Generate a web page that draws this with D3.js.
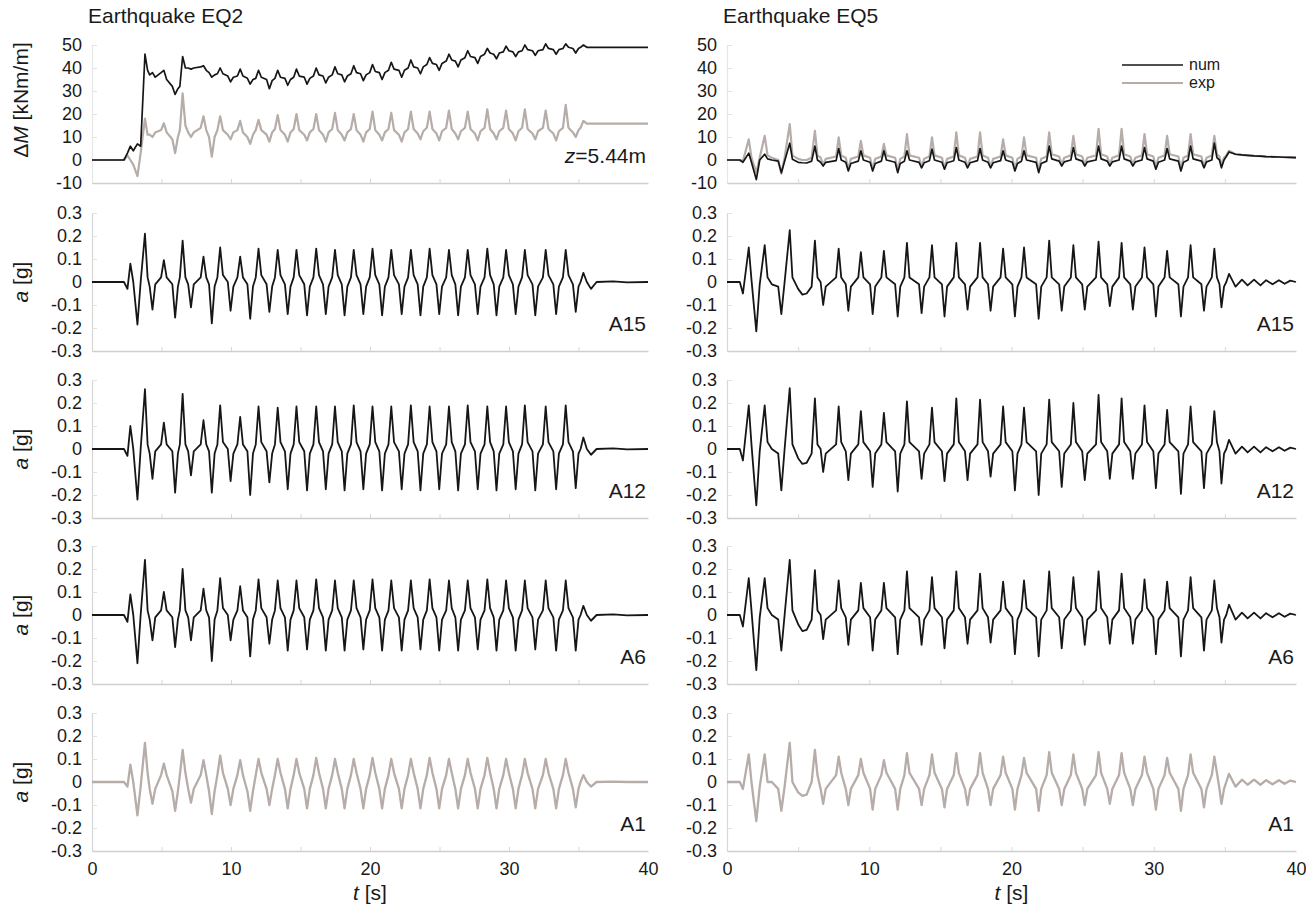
<!DOCTYPE html>
<html>
<head>
<meta charset="utf-8">
<script src="https://cdn.jsdelivr.net/npm/d3@7"></script>
<style>
  body { margin: 0; background: #fff; }
  svg { display: block; font-family: "Liberation Sans", Arial, sans-serif; }
</style>
</head>
<body>
<svg id="chart" width="1306" height="907"></svg>
<script>
// ---------- Earthquake EQ2: sample times [s] (peaks, troughs and knees) ----------
const eq2Time = [
  0, 2.3, 2.55, 2.76, 2.97, 3.27, 3.5, 3.81,
  4.0, 4.15, 4.35, 4.55, 4.97, 5.17,
  5.37, 5.78, 5.98, 6.18, 6.32, 6.52,
  6.72, 6.92, 7.12, 7.32, 7.82, 8.02,
  8.22, 8.42, 8.62, 8.82, 9.02, 9.22,
  9.42, 9.77, 9.97, 10.17, 10.46, 10.66,
  10.86, 11.18, 11.38, 11.58, 11.78, 11.98,
  12.18, 12.56, 12.76, 12.96, 13.16, 13.36,
  13.56, 13.88, 14.08, 14.28, 14.51, 14.71,
  14.91, 15.27, 15.47, 15.67, 15.93, 16.13,
  16.33, 16.62, 16.82, 17.02, 17.28, 17.48,
  17.68, 17.97, 18.17, 18.37, 18.63, 18.83,
  19.03, 19.32, 19.52, 19.72, 19.98, 20.18,
  20.38, 20.67, 20.87, 21.07, 21.33, 21.53,
  21.73, 22.08, 22.28, 22.48, 22.74, 22.94,
  23.14, 23.43, 23.63, 23.83, 24.09, 24.29,
  24.49, 24.78, 24.98, 25.18, 25.48, 25.68,
  25.88, 26.14, 26.34, 26.54, 26.83, 27.03,
  27.23, 27.55, 27.75, 27.95, 28.24, 28.44,
  28.64, 28.9, 29.1, 29.3, 29.59, 29.79,
  29.99, 30.28, 30.48, 30.68, 30.94, 31.14,
  31.34, 31.69, 31.89, 32.09, 32.44, 32.64,
  32.84, 33.19, 33.39, 33.59, 33.88, 34.08,
  34.28, 34.6, 34.8, 35.0, 35.15, 35.35,
  35.6, 35.9, 36.3, 37.5, 38.5, 40
];

// EQ2 bending moment increment at z=5.44m [kNm/m]
const eq2MomentNum = [
  0, 0, 3, 6, 4, 7, 6, 46,
  39, 37, 38, 36, 38, 39,
  35, 32, 28.5, 31, 32, 45,
  40, 40, 39.5, 40, 40.5, 41,
  39, 38, 36, 37, 37.5, 40,
  37.5, 36.5, 34, 36, 36.5, 39.5,
  36.5, 35.5, 33, 35, 35.5, 39,
  36, 35, 31, 34.5, 35.5, 39,
  36, 35.5, 32.5, 35, 36, 39.5,
  36.5, 36, 33, 35.5, 36.5, 40,
  37, 36.5, 33.5, 36, 37, 40.5,
  37.5, 37, 34, 36.5, 37.5, 41,
  38, 37.5, 34.5, 37, 38, 41.5,
  38.5, 38, 35, 38, 39, 42.5,
  39.5, 39, 36, 39, 40, 43.5,
  40.5, 40, 37.5, 40.5, 41.5, 44.5,
  42, 41.5, 39, 42, 43, 46,
  43.5, 43, 40.5, 43.5, 44.5, 47.5,
  45, 44.5, 42, 45, 46, 48.5,
  46.5, 46, 44, 46.5, 47, 49.5,
  47.5, 47, 45, 47, 47.5, 50,
  48, 47.5, 45.5, 47.5, 48, 50.5,
  48.5, 48, 46, 48, 48.5, 50.5,
  49, 48.5, 46.5, 48.5, 49, 50,
  49, 49, 49, 49, 49, 49
];
const eq2MomentExp = [
  0, 0, 2, 0, -2, -7, 3, 18,
  11, 11, 10, 12, 13, 16,
  12, 9, 3, 10, 13, 29,
  15, 12, 10, 12, 14, 19,
  13, 10, 1.5, 10, 13, 19,
  13, 11, 9, 12, 13, 17,
  12, 10, 7, 11, 13, 17.5,
  13, 11, 8, 12, 13.5, 19.5,
  13, 11, 8, 12, 13.5, 20,
  13, 11, 8.5, 12, 13.5, 20,
  13, 11, 8, 12, 13.5, 20.5,
  13, 11, 8.5, 12, 13.5, 20,
  13, 11, 8, 12, 13.5, 21,
  13, 11, 8.5, 12, 13.5, 20.5,
  13, 11, 8, 12, 13.5, 21,
  13.5, 11.5, 9, 12.5, 14, 21,
  13.5, 11.5, 8.5, 12.5, 14, 21.5,
  13.5, 11.5, 9, 12.5, 14, 21,
  13.5, 11.5, 8.5, 12.5, 14, 22,
  13.5, 11.5, 9, 12.5, 14, 21.5,
  13.5, 11.5, 8.5, 12.5, 14, 22,
  13.5, 11.5, 9, 12.5, 14, 21.5,
  13.5, 11.5, 8.5, 12.5, 14, 24,
  14, 12, 10, 13, 14, 17,
  15.8, 15.8, 15.8, 15.8, 15.8, 15.8
];

// EQ2 accelerations [g]
const eq2A15 = [
  0, 0, -0.03, 0.08, 0, -0.185, 0, 0.21,
  0.02, -0.02, -0.12, -0.01, 0.02, 0.095,
  0.02, -0.01, -0.155, -0.02, 0.02, 0.18,
  0.02, -0.01, -0.11, -0.01, 0.02, 0.11,
  0.02, -0.01, -0.18, -0.02, 0.02, 0.15,
  0.03, 0, -0.125, -0.02, 0.02, 0.11,
  0.02, -0.01, -0.16, -0.02, 0.02, 0.145,
  0.03, -0.01, -0.13, -0.02, 0.02, 0.14,
  0.03, -0.01, -0.14, -0.02, 0.02, 0.14,
  0.03, -0.01, -0.145, -0.02, 0.02, 0.145,
  0.03, -0.01, -0.14, -0.02, 0.02, 0.14,
  0.03, -0.01, -0.145, -0.02, 0.02, 0.14,
  0.03, -0.01, -0.14, -0.02, 0.02, 0.145,
  0.03, -0.01, -0.145, -0.02, 0.02, 0.14,
  0.03, -0.01, -0.14, -0.02, 0.02, 0.14,
  0.03, -0.01, -0.145, -0.02, 0.02, 0.145,
  0.03, -0.01, -0.14, -0.02, 0.02, 0.14,
  0.03, -0.01, -0.145, -0.02, 0.02, 0.14,
  0.03, -0.01, -0.14, -0.02, 0.02, 0.145,
  0.03, -0.01, -0.145, -0.02, 0.02, 0.14,
  0.03, -0.01, -0.14, -0.02, 0.02, 0.14,
  0.03, -0.01, -0.145, -0.02, 0.02, 0.14,
  0.03, -0.01, -0.14, -0.02, 0.02, 0.14,
  0.03, -0.01, -0.13, -0.02, 0, 0.04,
  0, -0.03, 0, 0.003, -0.002, 0
];
const eq2A12 = [
  0, 0, -0.03, 0.10, 0, -0.22, 0, 0.26,
  0.02, -0.02, -0.13, -0.01, 0.02, 0.115,
  0.02, -0.01, -0.19, -0.02, 0.02, 0.24,
  0.02, -0.01, -0.115, -0.01, 0.02, 0.125,
  0.02, -0.01, -0.19, -0.02, 0.02, 0.19,
  0.03, 0, -0.14, -0.02, 0.02, 0.14,
  0.02, -0.01, -0.2, -0.02, 0.02, 0.185,
  0.03, -0.01, -0.145, -0.02, 0.02, 0.18,
  0.03, -0.01, -0.175, -0.02, 0.02, 0.185,
  0.03, -0.01, -0.18, -0.02, 0.02, 0.185,
  0.03, -0.01, -0.175, -0.02, 0.02, 0.185,
  0.03, -0.01, -0.18, -0.02, 0.02, 0.19,
  0.03, -0.01, -0.175, -0.02, 0.02, 0.185,
  0.03, -0.01, -0.18, -0.02, 0.02, 0.185,
  0.03, -0.01, -0.175, -0.02, 0.02, 0.19,
  0.03, -0.01, -0.18, -0.02, 0.02, 0.185,
  0.03, -0.01, -0.175, -0.02, 0.02, 0.185,
  0.03, -0.01, -0.18, -0.02, 0.02, 0.19,
  0.03, -0.01, -0.175, -0.02, 0.02, 0.185,
  0.03, -0.01, -0.18, -0.02, 0.02, 0.185,
  0.03, -0.01, -0.175, -0.02, 0.02, 0.19,
  0.03, -0.01, -0.18, -0.02, 0.02, 0.185,
  0.03, -0.01, -0.175, -0.02, 0.02, 0.19,
  0.03, -0.01, -0.17, -0.02, 0, 0.05,
  0, -0.025, 0, 0.003, -0.002, 0
];
const eq2A6 = [
  0, 0, -0.03, 0.09, 0, -0.21, 0, 0.24,
  0.02, -0.02, -0.11, -0.01, 0.02, 0.10,
  0.02, -0.01, -0.14, -0.02, 0.02, 0.20,
  0.02, -0.01, -0.11, -0.01, 0.02, 0.115,
  0.02, -0.01, -0.20, -0.02, 0.02, 0.16,
  0.03, 0, -0.11, -0.02, 0.02, 0.125,
  0.02, -0.01, -0.18, -0.02, 0.02, 0.155,
  0.03, -0.01, -0.125, -0.02, 0.02, 0.15,
  0.03, -0.01, -0.155, -0.02, 0.02, 0.15,
  0.03, -0.01, -0.15, -0.02, 0.02, 0.155,
  0.03, -0.01, -0.155, -0.02, 0.02, 0.15,
  0.03, -0.01, -0.155, -0.02, 0.02, 0.15,
  0.03, -0.01, -0.15, -0.02, 0.02, 0.155,
  0.03, -0.01, -0.155, -0.02, 0.02, 0.15,
  0.03, -0.01, -0.155, -0.02, 0.02, 0.15,
  0.03, -0.01, -0.15, -0.02, 0.02, 0.155,
  0.03, -0.01, -0.155, -0.02, 0.02, 0.15,
  0.03, -0.01, -0.155, -0.02, 0.02, 0.15,
  0.03, -0.01, -0.15, -0.02, 0.02, 0.155,
  0.03, -0.01, -0.155, -0.02, 0.02, 0.15,
  0.03, -0.01, -0.155, -0.02, 0.02, 0.15,
  0.03, -0.01, -0.15, -0.02, 0.02, 0.15,
  0.03, -0.01, -0.155, -0.02, 0.02, 0.15,
  0.03, -0.01, -0.155, -0.02, 0, 0.04,
  0, -0.025, 0, 0.003, -0.002, 0
];
const eq2A1 = [
  0, 0, -0.02, 0.075, 0, -0.145, -0.02, 0.17,
  0.04, -0.03, -0.095, -0.03, 0.03, 0.08,
  0.03, -0.04, -0.125, -0.04, 0.03, 0.14,
  0.04, -0.03, -0.09, -0.03, 0.03, 0.095,
  0.03, -0.04, -0.14, -0.04, 0.03, 0.115,
  0.04, -0.03, -0.10, -0.03, 0.03, 0.095,
  0.03, -0.04, -0.125, -0.04, 0.03, 0.10,
  0.04, -0.03, -0.10, -0.03, 0.03, 0.10,
  0.04, -0.03, -0.115, -0.03, 0.03, 0.10,
  0.04, -0.03, -0.115, -0.03, 0.03, 0.105,
  0.04, -0.03, -0.115, -0.03, 0.03, 0.10,
  0.04, -0.03, -0.115, -0.03, 0.03, 0.10,
  0.04, -0.03, -0.115, -0.03, 0.03, 0.105,
  0.04, -0.03, -0.115, -0.03, 0.03, 0.10,
  0.04, -0.03, -0.115, -0.03, 0.03, 0.10,
  0.04, -0.03, -0.115, -0.03, 0.03, 0.105,
  0.04, -0.03, -0.115, -0.03, 0.03, 0.10,
  0.04, -0.03, -0.115, -0.03, 0.03, 0.10,
  0.04, -0.03, -0.115, -0.03, 0.03, 0.105,
  0.04, -0.03, -0.115, -0.03, 0.03, 0.10,
  0.04, -0.03, -0.115, -0.03, 0.03, 0.10,
  0.04, -0.03, -0.115, -0.03, 0.03, 0.10,
  0.04, -0.03, -0.115, -0.03, 0.03, 0.10,
  0.04, -0.03, -0.11, -0.03, 0, 0.03,
  0, -0.02, 0, 0.002, 0, 0
];

// ---------- Earthquake EQ5: sample times [s] ----------
const eq5Time = [
  0, 0.9, 1.12, 1.53, 1.72, 2.06, 2.3, 2.65,
  2.85, 3.15, 3.6, 3.82, 4.05, 4.41,
  4.6, 5.0, 5.3, 5.6, 5.95, 6.18,
  6.36, 6.58, 6.76, 6.94, 7.67, 7.85,
  8.03, 8.35, 8.53, 8.71, 9.23, 9.41,
  9.59, 10.06, 10.24, 10.42, 10.85, 11.03,
  11.21, 11.82, 12.0, 12.18, 12.47, 12.65,
  12.83, 13.5, 13.68, 13.86, 14.23, 14.41,
  14.59, 15.11, 15.29, 15.47, 15.94, 16.12,
  16.3, 16.73, 16.91, 17.09, 17.61, 17.79,
  17.97, 18.35, 18.53, 18.71, 19.23, 19.41,
  19.59, 20.06, 20.24, 20.42, 20.7, 20.88,
  21.06, 21.73, 21.91, 22.09, 22.47, 22.65,
  22.83, 23.35, 23.53, 23.71, 24.17, 24.35,
  24.53, 24.97, 25.15, 25.33, 25.94, 26.12,
  26.3, 26.73, 26.91, 27.09, 27.56, 27.74,
  27.92, 28.35, 28.53, 28.71, 29.17, 29.35,
  29.53, 29.97, 30.15, 30.33, 30.76, 30.94,
  31.12, 31.73, 31.91, 32.09, 32.41, 32.59,
  32.77, 33.35, 33.53, 33.71, 34.08, 34.26,
  34.44, 34.62, 34.76, 34.94, 35.1, 35.29,
  35.75, 36.2, 36.6, 37.05, 37.5, 37.9, 38.35, 38.8, 39.2, 39.6, 40
];

const eq5MomentNum = [
  0, 0, -1, 3, -1, -8.5, 0, 2.5,
  0.5, 0, -0.5, -5.5, -0.5, 7.3,
  0.3, -1, -1.2, -1.3, -0.5, 6,
  0, -1, -2.6, -1, -0.3, 5,
  0, -1, -4.8, -1.5, -0.5, 4,
  0, -1, -4.8, -1.5, -0.5, 4,
  0, -1, -5.5, -1.5, -0.5, 4,
  0, -1, -3.4, -1.2, -0.3, 4.7,
  0, -1, -4, -1.2, -0.3, 5.4,
  0, -1, -3.4, -1.2, -0.3, 5,
  0, -1, -3.4, -1.2, -0.3, 4,
  0, -1, -4.8, -1.5, -0.5, 4,
  0, -1, -5.5, -1.5, -0.5, 6,
  0.5, -0.5, -2.6, -0.8, 0, 5.4,
  0.5, -0.5, -2.6, -0.8, 0, 6,
  0.5, -0.5, -2.6, -0.8, 0, 6,
  0.5, -0.5, -2.6, -0.8, 0, 5.4,
  0.5, -0.5, -4, -1, 0, 5,
  0.5, -0.5, -4.8, -1, 0, 6,
  0.5, -0.5, -3.4, -0.8, 0, 7.3,
  1, 0, -3.4, 0, 1.5, 3.5,
  2.5, 2.2, 2.0, 1.8, 1.7, 1.5, 1.4, 1.3, 1.2, 1.1, 1.0
];
const eq5MomentExp = [
  0, 0, -0.5, 9, 1, -5.5, 1, 10.5,
  2, 1, 0, -6, 1, 15.6,
  2, 0.5, 0, 0, 1, 12.7,
  2, 1, -2, 0.5, 1.5, 9.8,
  2, 1, -4, 0.5, 1.5, 8.3,
  2, 1, -4, 0.5, 1.5, 7,
  2, 1, -4.5, 0.5, 1.5, 11.3,
  2, 1, -3, 0.5, 1.5, 9.8,
  2, 1, -3.5, 0.5, 1.5, 12,
  2, 1, -3, 0.5, 1.5, 12,
  2, 1, -3, 0.5, 1.5, 9,
  2, 1, -4, 0.5, 1.5, 9.8,
  2, 1, -4.5, 0.5, 1.5, 12,
  2.5, 1.5, -2, 1, 2, 10.5,
  2.5, 1.5, -2, 1, 2, 13.5,
  2.5, 1.5, -2, 1, 2, 13.5,
  2.5, 1.5, -2, 1, 2, 11.3,
  2.5, 1.5, -3, 1, 2, 10.5,
  2.5, 1.5, -4, 1, 2, 11.3,
  2.5, 1.5, -3, 1, 2, 10.5,
  2.5, 1.5, -2.5, 1, 2, 4,
  2.5, 2.2, 2.0, 1.8, 1.7, 1.5, 1.4, 1.3, 1.2, 1.1, 1.0
];

const eq5A15 = [
  0, 0, -0.05, 0.15, 0.01, -0.215, -0.01, 0.16,
  0.02, -0.01, -0.02, -0.14, 0, 0.225,
  0.02, -0.03, -0.055, -0.05, -0.02, 0.18,
  0.02, 0, -0.1, -0.02, 0.02, 0.145,
  0.02, -0.01, -0.125, -0.02, 0.02, 0.13,
  0.02, -0.01, -0.14, -0.02, 0.02, 0.135,
  0.02, -0.01, -0.15, -0.02, 0.02, 0.17,
  0.02, -0.01, -0.135, -0.02, 0.02, 0.16,
  0.02, -0.01, -0.15, -0.02, 0.02, 0.17,
  0.02, -0.01, -0.12, -0.02, 0.02, 0.17,
  0.02, -0.01, -0.125, -0.02, 0.02, 0.145,
  0.02, -0.01, -0.15, -0.02, 0.02, 0.15,
  0.02, -0.01, -0.16, -0.02, 0.02, 0.18,
  0.02, -0.01, -0.125, -0.02, 0.02, 0.16,
  0.02, -0.01, -0.12, -0.02, 0.02, 0.175,
  0.02, -0.01, -0.105, -0.02, 0.02, 0.17,
  0.02, -0.01, -0.12, -0.02, 0.02, 0.15,
  0.02, -0.01, -0.15, -0.02, 0.02, 0.135,
  0.02, -0.01, -0.15, -0.02, 0.02, 0.16,
  0.02, -0.01, -0.125, -0.02, 0.02, 0.145,
  0.02, -0.01, -0.11, -0.02, 0, 0.035,
  -0.02, 0.01, -0.015, 0.01, -0.015, 0.008, -0.01, 0.008, -0.008, 0.006, 0
];
const eq5A12 = [
  0, 0, -0.05, 0.19, 0.02, -0.245, -0.01, 0.19,
  0.03, 0, -0.02, -0.18, 0, 0.265,
  0.02, -0.04, -0.065, -0.06, -0.02, 0.22,
  0.02, 0, -0.10, -0.02, 0.02, 0.185,
  0.03, -0.01, -0.135, -0.02, 0.02, 0.165,
  0.03, -0.01, -0.165, -0.02, 0.02, 0.157,
  0.03, -0.01, -0.185, -0.02, 0.02, 0.207,
  0.03, -0.01, -0.13, -0.02, 0.02, 0.18,
  0.03, -0.01, -0.14, -0.02, 0.02, 0.22,
  0.03, -0.01, -0.135, -0.02, 0.02, 0.215,
  0.03, -0.01, -0.12, -0.02, 0.02, 0.185,
  0.03, -0.01, -0.18, -0.02, 0.02, 0.18,
  0.03, -0.01, -0.2, -0.02, 0.02, 0.215,
  0.03, -0.01, -0.165, -0.02, 0.02, 0.2,
  0.03, -0.01, -0.135, -0.02, 0.02, 0.235,
  0.03, -0.01, -0.13, -0.02, 0.02, 0.22,
  0.03, -0.01, -0.13, -0.02, 0.02, 0.19,
  0.03, -0.01, -0.17, -0.02, 0.02, 0.17,
  0.03, -0.01, -0.195, -0.02, 0.02, 0.185,
  0.03, -0.01, -0.17, -0.02, 0.02, 0.165,
  0.03, -0.01, -0.15, -0.02, 0, 0.04,
  -0.02, 0.01, -0.015, 0.01, -0.015, 0.008, -0.01, 0.008, -0.008, 0.006, 0
];
const eq5A6 = [
  0, 0, -0.05, 0.16, 0.02, -0.24, -0.01, 0.16,
  0.03, 0, -0.02, -0.155, 0, 0.24,
  0.02, -0.04, -0.07, -0.065, -0.02, 0.195,
  0.02, 0, -0.105, -0.02, 0.02, 0.15,
  0.03, -0.01, -0.13, -0.02, 0.02, 0.14,
  0.03, -0.01, -0.155, -0.02, 0.02, 0.14,
  0.03, -0.01, -0.17, -0.02, 0.02, 0.19,
  0.03, -0.01, -0.13, -0.02, 0.02, 0.165,
  0.03, -0.01, -0.145, -0.02, 0.02, 0.19,
  0.03, -0.01, -0.125, -0.02, 0.02, 0.18,
  0.03, -0.01, -0.12, -0.02, 0.02, 0.145,
  0.03, -0.01, -0.17, -0.02, 0.02, 0.15,
  0.03, -0.01, -0.18, -0.02, 0.02, 0.19,
  0.03, -0.01, -0.145, -0.02, 0.02, 0.165,
  0.03, -0.01, -0.13, -0.02, 0.02, 0.19,
  0.03, -0.01, -0.125, -0.02, 0.02, 0.18,
  0.03, -0.01, -0.125, -0.02, 0.02, 0.155,
  0.03, -0.01, -0.17, -0.02, 0.02, 0.145,
  0.03, -0.01, -0.18, -0.02, 0.02, 0.165,
  0.03, -0.01, -0.155, -0.02, 0.02, 0.15,
  0.03, -0.01, -0.12, -0.02, 0, 0.045,
  -0.02, 0.01, -0.015, 0.01, -0.015, 0.008, -0.01, 0.008, -0.008, 0.006, 0
];
const eq5A1 = [
  0, 0, -0.03, 0.12, 0, -0.17, -0.02, 0.12,
  0, 0, -0.03, -0.125, -0.02, 0.17,
  0, -0.045, -0.06, -0.055, 0, 0.14,
  0.03, -0.03, -0.095, -0.03, 0.03, 0.11,
  0.04, -0.03, -0.10, -0.03, 0.03, 0.10,
  0.04, -0.03, -0.12, -0.03, 0.03, 0.095,
  0.04, -0.03, -0.12, -0.03, 0.03, 0.125,
  0.04, -0.03, -0.10, -0.03, 0.03, 0.12,
  0.04, -0.03, -0.11, -0.03, 0.03, 0.125,
  0.04, -0.03, -0.10, -0.03, 0.03, 0.125,
  0.04, -0.03, -0.10, -0.03, 0.03, 0.11,
  0.04, -0.03, -0.12, -0.03, 0.03, 0.105,
  0.04, -0.03, -0.125, -0.03, 0.03, 0.13,
  0.04, -0.03, -0.10, -0.03, 0.03, 0.12,
  0.04, -0.03, -0.10, -0.03, 0.03, 0.13,
  0.04, -0.03, -0.095, -0.03, 0.03, 0.125,
  0.04, -0.03, -0.10, -0.03, 0.03, 0.11,
  0.04, -0.03, -0.12, -0.03, 0.03, 0.105,
  0.04, -0.03, -0.125, -0.03, 0.03, 0.12,
  0.04, -0.03, -0.11, -0.03, 0.03, 0.11,
  0.04, -0.03, -0.095, -0.03, 0, 0.035,
  -0.02, 0.01, -0.012, 0.01, -0.012, 0.008, -0.01, 0.008, -0.008, 0.006, 0
];

// ---------- axis ticks ----------
const timeTicks = [0, 10, 20, 30, 40];
const timeTickLabels = ["0", "10", "20", "30", "40"];
const timeMinorTicks = [5, 10, 15, 20, 25, 30, 35];
const momentTicks = [-10, 0, 10, 20, 30, 40, 50];
const momentTickLabels = ["-10", "0", "10", "20", "30", "40", "50"];
const accTicks = [-0.3, -0.2, -0.1, 0, 0.1, 0.2, 0.3];
const accTickLabels = ["-0.3", "-0.2", "-0.1", "0", "0.1", "0.2", "0.3"];
const stationLabels = ["A15", "A12", "A6", "A1"];
const legendLabels = ["num", "exp"];

// ---------- layout & style ----------
const COL_NUM = "#161616";
const COL_EXP = "#b6aca8";
const AXIS_COL = "#cfcfcf";
const TEXT_COL = "#1a1a1a";
const TICK_FONT = 18;
const LABEL_FONT = 21;

const columns = [
  { x0: 92, x1: 648, title: "Earthquake EQ2", time: eq2Time,
    moment: [eq2MomentExp, eq2MomentNum], acc: [eq2A15, eq2A12, eq2A6, eq2A1],
    axisTitles: true, legend: false },
  { x0: 727, x1: 1296, title: "Earthquake EQ5", time: eq5Time,
    moment: [eq5MomentExp, eq5MomentNum], acc: [eq5A15, eq5A12, eq5A6, eq5A1],
    axisTitles: false, legend: true }
];
const rowBottoms = [183, 351, 518, 684, 851];
const panelHeight = 138;

const svg = d3.select("#chart");

function styleAxisText(g, size) {
  g.selectAll("text")
    .attr("fill", TEXT_COL)
    .style("font-size", size + "px")
    .style("font-family", "'Liberation Sans', Arial, sans-serif");
}

columns.forEach(col => {
  const x = d3.scaleLinear().domain([0, 40]).range([col.x0, col.x1]);
  const colG = svg.append("g");

  // column title
  colG.append("text")
    .attr("x", col.x0 - 4).attr("y", 23)
    .attr("fill", TEXT_COL).style("font-size", "21px")
    .text(col.title);

  rowBottoms.forEach((bot, r) => {
    const isMoment = r === 0;
    const isLast = r === rowBottoms.length - 1;
    const y = isMoment
      ? d3.scaleLinear().domain([-10, 50]).range([bot, bot - panelHeight])
      : d3.scaleLinear().domain([-0.3, 0.3]).range([bot, bot - panelHeight]);
    const ticks = isMoment ? momentTicks : accTicks;
    const tickLabels = isMoment ? momentTickLabels : accTickLabels;

    const g = colG.append("g");

    // y axis
    const ya = g.append("g")
      .attr("transform", `translate(${col.x0},0)`)
      .call(d3.axisLeft(y).tickValues(ticks)
        .tickFormat((d, i) => tickLabels[i])
        .tickSizeInner(-5).tickSizeOuter(0).tickPadding(10));
    ya.select(".domain").attr("stroke", isMoment ? "#e6e6e6" : "#d6d6d6").attr("stroke-width", 1.2);
    ya.selectAll(".tick line").attr("stroke", "#e2e2e2");
    styleAxisText(ya, TICK_FONT);

    // x axis (baseline at the lower limit of each panel)
    const xa = g.append("g")
      .attr("transform", `translate(0,${bot})`)
      .call(d3.axisBottom(x).tickValues(timeTicks)
        .tickFormat(isLast ? (d, i) => timeTickLabels[i] : "")
        .tickSizeInner(0).tickSizeOuter(0).tickPadding(11));
    xa.select(".domain").attr("stroke", AXIS_COL).attr("stroke-width", 1.6);
    styleAxisText(xa, TICK_FONT);
    const xm = g.append("g")
      .attr("transform", `translate(0,${bot})`)
      .call(d3.axisBottom(x).tickValues(timeMinorTicks).tickFormat("")
        .tickSizeInner(-4).tickSizeOuter(0));
    xm.select(".domain").remove();
    xm.selectAll(".tick line").attr("stroke", "#d8d8d8");

    const line = d3.line().x(d => x(d[0])).y(d => y(d[1]));

    if (isMoment) {
      const [expVals, numVals] = col.moment;
      g.append("path").datum(d3.zip(col.time, expVals))
        .attr("d", line).attr("fill", "none")
        .attr("stroke", COL_EXP).attr("stroke-width", 2.2).attr("stroke-linejoin", "round");
      g.append("path").datum(d3.zip(col.time, numVals))
        .attr("d", line).attr("fill", "none")
        .attr("stroke", COL_NUM).attr("stroke-width", 1.7).attr("stroke-linejoin", "round");
    } else {
      const vals = col.acc[r - 1];
      const isInput = r === 4;
      g.append("path").datum(d3.zip(col.time, vals))
        .attr("d", line).attr("fill", "none")
        .attr("stroke", isInput ? COL_EXP : COL_NUM)
        .attr("stroke-width", isInput ? 2.3 : 1.8)
        .attr("stroke-linejoin", "round");
    }

    // panel label at lower right
    const lab = g.append("text")
      .attr("x", col.x1 - 2).attr("y", bot - 20)
      .attr("text-anchor", "end").attr("fill", TEXT_COL)
      .style("font-size", "21px");
    if (isMoment) {
      if (col === columns[0]) {
        lab.append("tspan").style("font-style", "italic").text("z");
        lab.append("tspan").text("=5.44m");
      }
    } else {
      lab.text(stationLabels[r - 1]);
    }

    // rotated axis titles (left column only)
    if (col.axisTitles) {
      const cy = isMoment ? 100 : y(0);
      const t = g.append("text")
        .attr("transform", `translate(28,${cy}) rotate(-90)`)
        .attr("text-anchor", "middle").attr("fill", TEXT_COL)
        .style("font-size", LABEL_FONT + "px");
      if (isMoment) {
        t.append("tspan").text("\u0394");
        t.append("tspan").style("font-style", "italic").text("M");
        t.append("tspan").text(" [kNm/m]");
      } else {
        t.append("tspan").style("font-style", "italic").text("a");
        t.append("tspan").text(" [g]");
      }
    }

    // legend
    if (isMoment && col.legend) {
      const lg = g.append("g");
      [COL_NUM, COL_EXP].forEach((c, i) => {
        const ly = 65 + i * 18;
        lg.append("line").attr("x1", 1122).attr("x2", 1183)
          .attr("y1", ly).attr("y2", ly)
          .attr("stroke", c).attr("stroke-width", i ? 2.2 : 1.7);
        lg.append("text").attr("x", 1189).attr("y", ly + 5)
          .attr("fill", TEXT_COL).style("font-size", "16px")
          .text(legendLabels[i]);
      });
    }
  });

  // time axis title
  const tt = colG.append("text")
    .attr("x", (col.x0 + col.x1) / 2).attr("y", 900)
    .attr("text-anchor", "middle").attr("fill", TEXT_COL)
    .style("font-size", LABEL_FONT + "px");
  tt.append("tspan").style("font-style", "italic").text("t");
  tt.append("tspan").text(" [s]");
});
</script>
</body>
</html>
